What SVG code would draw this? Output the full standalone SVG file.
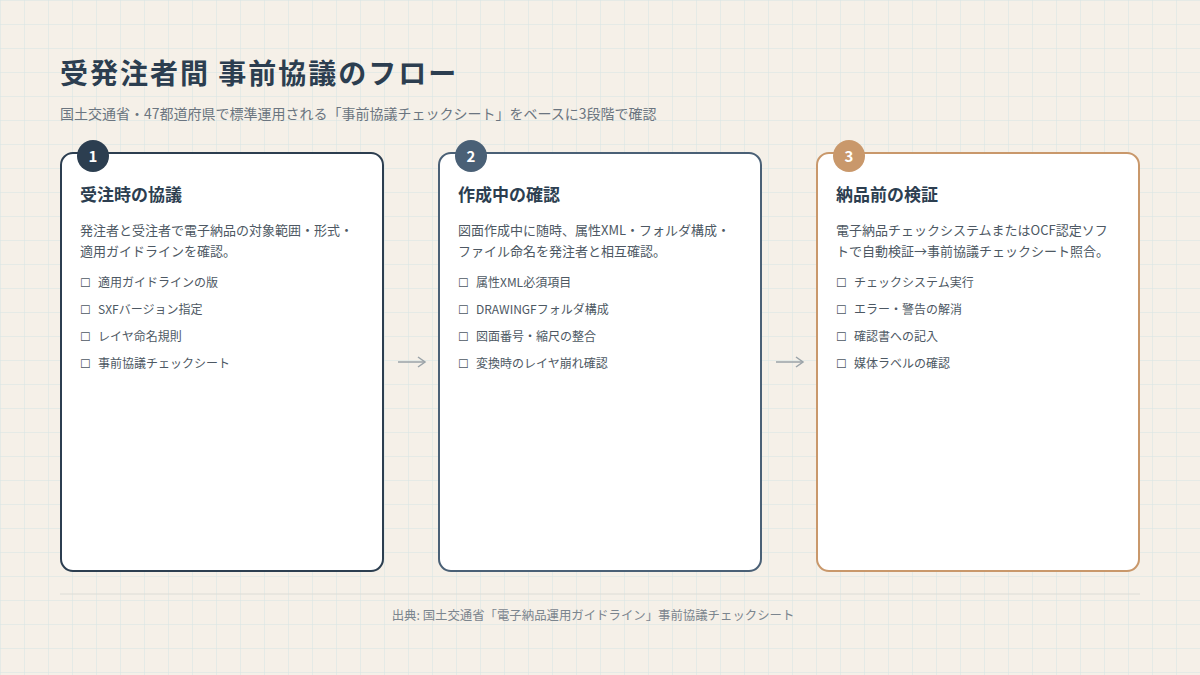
<svg xmlns="http://www.w3.org/2000/svg" width="1200" height="675" viewBox="0 0 1200 675">
<defs>
<pattern id="grid" width="24" height="24" patternUnits="userSpaceOnUse">
<path d="M24 0H0V24" fill="none" stroke="#d6e3e4" stroke-width="1"/>
</pattern>
<marker id="arr" markerWidth="12" markerHeight="12" refX="10" refY="6" orient="auto" markerUnits="userSpaceOnUse">
<path d="M3 1L10 6L3 11" fill="none" stroke="#9aa3a8" stroke-width="1.5"/>
</marker>
<style>
text{font-family:"Noto Sans CJK JP","Noto Sans",sans-serif}
.title{font-size:28px;font-weight:700;fill:#2c3e50;letter-spacing:2px}
.sub{font-size:14px;fill:#6b7580}
.card{fill:#ffffff;stroke-width:2}
.h{font-size:17px;font-weight:700;fill:#2c3e50}
.d{font-size:13px;fill:#4d5863}
.li{font-size:12px;fill:#4d5863}
.cb{font-size:12px;fill:#4d5863}
.num{font-size:15px;font-weight:700;fill:#ffffff;text-anchor:middle}
.foot{font-size:12.4px;fill:#7b858e;text-anchor:middle}
.conn{stroke:#9aa3a8;stroke-width:1.5;fill:none}
</style>
</defs>
<rect width="1200" height="675" fill="#f5f0e8"/>
<rect width="1200" height="675" fill="url(#grid)"/>
<text class="title" x="60" y="84">受発注者間 事前協議のフロー</text>
<text class="sub" x="60" y="119">国土交通省・47都道府県で標準運用される「事前協議チェックシート」をベースに3段階で確認</text>

<g id="step1">
<rect class="card" x="61" y="153" width="322" height="418" rx="12" stroke="#2c3e50"/>
<circle cx="93" cy="156" r="16" fill="#2c3e50"/>
<text class="num" x="93" y="161.5">1</text>
<text class="h" x="80" y="201">受注時の協議</text>
<text class="d" x="80" y="235">発注者と受注者で電子納品の対象範囲・形式・</text>
<text class="d" x="80" y="256">適用ガイドラインを確認。</text>
<text class="cb" x="80" y="287">☐</text><text class="li" x="98" y="287">適用ガイドラインの版</text>
<text class="cb" x="80" y="314">☐</text><text class="li" x="98" y="314">SXFバージョン指定</text>
<text class="cb" x="80" y="341">☐</text><text class="li" x="98" y="341">レイヤ命名規則</text>
<text class="cb" x="80" y="368">☐</text><text class="li" x="98" y="368">事前協議チェックシート</text>
</g>

<g id="step2">
<rect class="card" x="439" y="153" width="322" height="418" rx="12" stroke="#4a6076"/>
<circle cx="471" cy="156" r="16" fill="#4a6076"/>
<text class="num" x="471" y="161.5">2</text>
<text class="h" x="458" y="201">作成中の確認</text>
<text class="d" x="458" y="235">図面作成中に随時、属性XML・フォルダ構成・</text>
<text class="d" x="458" y="256">ファイル命名を発注者と相互確認。</text>
<text class="cb" x="458" y="287">☐</text><text class="li" x="476" y="287">属性XML必須項目</text>
<text class="cb" x="458" y="314">☐</text><text class="li" x="476" y="314">DRAWINGFフォルダ構成</text>
<text class="cb" x="458" y="341">☐</text><text class="li" x="476" y="341">図面番号・縮尺の整合</text>
<text class="cb" x="458" y="368">☐</text><text class="li" x="476" y="368">変換時のレイヤ崩れ確認</text>
</g>

<g id="step3">
<rect class="card" x="817" y="153" width="322" height="418" rx="12" stroke="#c9986b"/>
<circle cx="849" cy="156" r="16" fill="#c9986b"/>
<text class="num" x="849" y="161.5">3</text>
<text class="h" x="836" y="201">納品前の検証</text>
<text class="d" x="836" y="235">電子納品チェックシステムまたはOCF認定ソフ</text>
<text class="d" x="836" y="256">トで自動検証→事前協議チェックシート照合。</text>
<text class="cb" x="836" y="287">☐</text><text class="li" x="854" y="287">チェックシステム実行</text>
<text class="cb" x="836" y="314">☐</text><text class="li" x="854" y="314">エラー・警告の解消</text>
<text class="cb" x="836" y="341">☐</text><text class="li" x="854" y="341">確認書への記入</text>
<text class="cb" x="836" y="368">☐</text><text class="li" x="854" y="368">媒体ラベルの確認</text>
</g>

<g id="connectors">
<line class="conn" x1="398" y1="362" x2="425" y2="362" marker-end="url(#arr)"/>
<line class="conn" x1="776" y1="362" x2="803" y2="362" marker-end="url(#arr)"/>
</g>

<line x1="60" y1="594" x2="1140" y2="594" stroke="#dcdcd6" stroke-width="1"/>
<text class="foot" x="593" y="620">出典: 国土交通省「電子納品運用ガイドライン」事前協議チェックシート</text>
</svg>
